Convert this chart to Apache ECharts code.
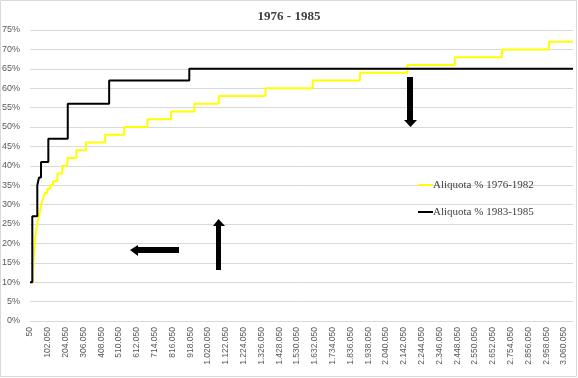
<!DOCTYPE html>
<html>
<head>
<meta charset="utf-8">
<script src="https://cdn.jsdelivr.net/npm/echarts@6/dist/echarts.min.js"></script>
<style>
  html, body { margin: 0; padding: 0; background: #fff; }
  #chart { width: 578px; height: 378px; }
</style>
</head>
<body>
<div id="chart"></div>
<script>
  // x = amount where the new level starts, y = aliquota %
  const xStart = 50;
  const yellowX = [50, 17300, 21300, 24700, 28750, 34500, 40200, 46000, 51700, 59200, 65000, 70600, 78100,
    86150, 99350, 114850, 132000, 156750, 185450, 214150, 265800, 319800, 430550, 539600, 673350, 807650,
    941400, 1080900, 1348950, 1620500, 1890300, 2162300, 2433800, 2703600, 2973400, 3111000];
  const yellowY = [10, 13, 16, 19, 21, 23, 25, 26, 27, 29, 30, 31, 32,
    33, 34, 35, 36, 38, 40, 42, 44, 46, 48, 50, 52, 54,
    56, 58, 60, 62, 64, 66, 68, 70, 72, 72];
  const blackX = [50, 13250, 41900, 51650, 63150, 105100, 216400, 453500, 912700, 3111000];
  const blackY = [10, 27, 35, 37, 41, 47, 56, 62, 65, 65];
  const names = ['Aliquota % 1976-1982', 'Aliquota % 1983-1985'];
  const xInterval = 102000;
  const xMax = 3111000;

  function dots(n) {
    return String(n).replace(/\B(?=(\d{3})+(?!\d))/g, '.');
  }
  function pairs(xs, ys) {
    let out = [];
    for (let i = 0; i < ys.length; i++) {
      out.push([xs[i] - xStart, ys[i]]);
    }
    return out;
  }

  const myChart = echarts.init(document.getElementById('chart'));
  let option = {
    animation: false,
    title: {
      text: '1976 - 1985',
      left: 'center',
      top: 5,
      textStyle: { fontFamily: 'Liberation Serif', fontWeight: 'bold', fontSize: 13, color: '#404040' }
    },
    legend: {
      orient: 'vertical',
      left: 413,
      top: 173,
      icon: 'rect',
      itemWidth: 15,
      itemHeight: 2,
      itemGap: 13,
      textStyle: { fontFamily: 'Liberation Serif', fontSize: 11, color: '#404040', lineHeight: 14, padding: [0, 0, 0, -5] },
      data: names
    },
    grid: {
      left: 30,
      right: 5,
      top: 30,
      bottom: 57,
      outerBoundsMode: 'none'
    },
    xAxis: {
      type: 'value',
      min: 0,
      max: xMax,
      interval: xInterval,
      axisLine: { show: true, lineStyle: { color: '#d9d9d9' } },
      axisTick: { show: false },
      splitLine: { show: false },
      axisLabel: {
        rotate: 90,
        margin: 6,
        showMaxLabel: false,
        fontFamily: 'Liberation Sans',
        fontSize: 8.5,
        color: '#595959',
        formatter: function (v) { return dots(v + xStart); }
      }
    },
    yAxis: {
      type: 'value',
      min: 0,
      max: 75,
      interval: 5,
      axisLine: { show: false },
      axisTick: { show: false },
      splitLine: { lineStyle: { color: '#d9d9d9' } },
      axisLabel: {
        margin: 10,
        fontFamily: 'Liberation Sans',
        fontSize: 9,
        color: '#595959',
        formatter: '{value}%'
      }
    },
    series: [
      {
        name: names[0],
        type: 'line',
        step: 'end',
        symbol: 'none',
        color: '#ffff00',
        lineStyle: { width: 2, color: '#ffff00' },
        data: pairs(yellowX, yellowY)
      },
      {
        name: names[1],
        type: 'line',
        step: 'end',
        symbol: 'none',
        color: '#000000',
        lineStyle: { width: 2, color: '#000000' },
        data: pairs(blackX, blackY)
      }
    ],
    graphic: [
      // chart border
      { type: 'rect', z: 100, shape: { x: 0.5, y: 0.5, width: 576, height: 376 }, style: { fill: null, stroke: '#d9d9d9', lineWidth: 1 }, silent: true },
      // left arrow
      { type: 'polygon', z: 100, shape: { points: [[179, 247], [138, 247], [138, 245], [130, 250], [138, 256], [138, 253], [179, 253]] }, style: { fill: '#000' } },
      // up arrow
      { type: 'polygon', z: 100, shape: { points: [[216, 270], [216, 226], [213, 226], [218.5, 219], [225, 226], [221, 226], [221, 270]] }, style: { fill: '#000' } },
      // down arrow
      { type: 'polygon', z: 100, shape: { points: [[407, 77], [413, 77], [413, 120], [417, 120], [410.5, 127], [404, 120], [407, 120]] }, style: { fill: '#000' } }
    ]
  };
  myChart.setOption(option);
  window.addEventListener('resize', function () {
    myChart.resize();
  });
</script>
</body>
</html>
